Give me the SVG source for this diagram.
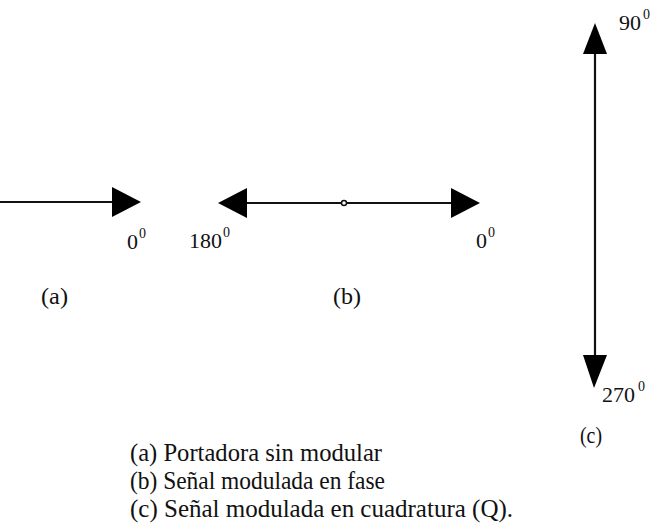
<svg xmlns="http://www.w3.org/2000/svg" width="664" height="532" viewBox="0 0 664 532">
<style>
.t{font-family:"Liberation Serif","DejaVu Serif",serif;font-size:25px;fill:#111}
.d{font-family:"Liberation Serif","DejaVu Serif",serif;font-size:22px;fill:#111}
.s{font-size:14px}
.g{font-family:"Liberation Serif","DejaVu Serif",serif;font-size:23px;fill:#111}
.ln{stroke:#111;stroke-width:2.2;fill:none}
.ah{fill:#000}
</style>
<rect width="664" height="532" fill="#fff"/>
<g id="connectors">
<line class="ln" x1="0" y1="202" x2="116" y2="202"/>
<polygon class="ah" points="112,187 141,202 112,217"/>
<line class="ln" x1="242" y1="203" x2="454" y2="203"/>
<polygon class="ah" points="247,188 218,203 247,218"/>
<polygon class="ah" points="451,188 480,203 451,218"/>
<line class="ln" x1="595" y1="50" x2="595" y2="360"/>
<polygon class="ah" points="583,54 595,23 607,54"/>
<polygon class="ah" points="583,355 594,388 607,355"/>
</g>
<g id="origin-b"><circle cx="344" cy="203" r="2.5" fill="#fff" stroke="#111" stroke-width="1.5"/></g>
<g id="label-a0"><text class="d" x="127" y="249">0<tspan class="s" dx="1" dy="-11">0</tspan></text></g>
<g id="label-b180"><text class="d" x="189" y="248">180<tspan class="s" dx="1" dy="-11">0</tspan></text></g>
<g id="label-b0"><text class="d" x="476" y="248">0<tspan class="s" dx="1" dy="-11">0</tspan></text></g>
<g id="label-c90"><text class="d" x="619" y="30">90<tspan class="s" dx="2" dy="-11">0</tspan></text></g>
<g id="label-c270"><text class="d" x="602" y="402">270<tspan class="s" dx="3" dy="-11">0</tspan></text></g>
<g id="caption-a"><text class="g" x="41" y="304" textLength="27" lengthAdjust="spacingAndGlyphs">(a)</text></g>
<g id="caption-b"><text class="g" x="333" y="304" textLength="28" lengthAdjust="spacingAndGlyphs">(b)</text></g>
<g id="caption-c"><text class="g" x="580" y="443" textLength="22" lengthAdjust="spacingAndGlyphs">(c)</text></g>
<g id="legend">
<text class="t" x="130" y="461" textLength="252" lengthAdjust="spacingAndGlyphs">(a) Portadora sin modular</text>
<text class="t" x="130" y="489" textLength="255" lengthAdjust="spacingAndGlyphs">(b) Señal modulada en fase</text>
<text class="t" x="130" y="517" textLength="383" lengthAdjust="spacingAndGlyphs">(c) Señal modulada en cuadratura (Q).</text>
</g>
</svg>
